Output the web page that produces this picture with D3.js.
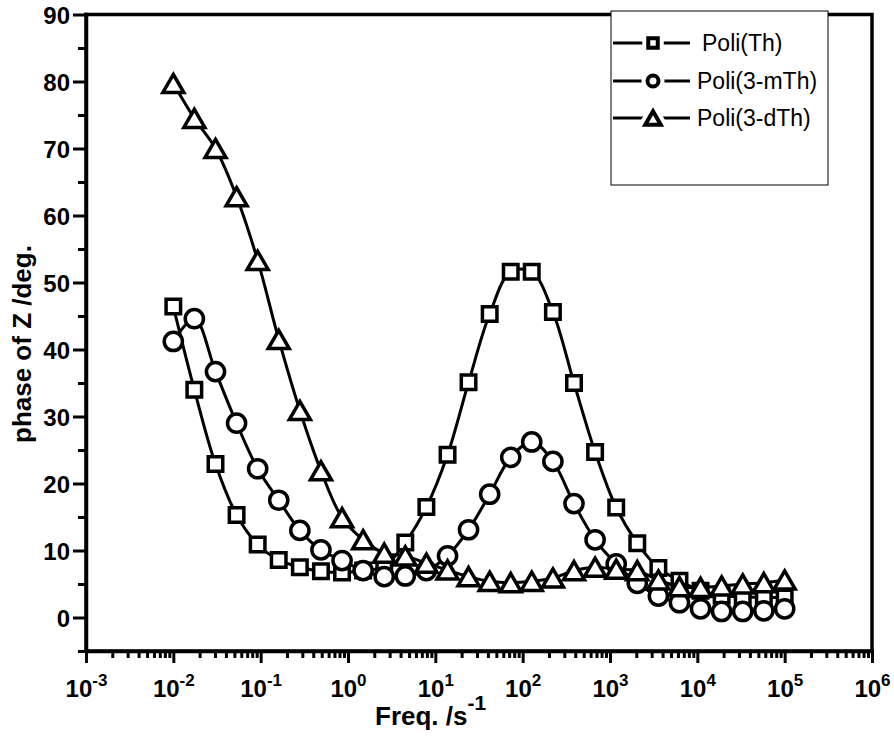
<!DOCTYPE html>
<html>
<head>
<meta charset="utf-8">
<script src="https://cdn.jsdelivr.net/npm/d3@7/dist/d3.min.js"></script>
<style>
  html, body { margin: 0; padding: 0; background: #fff; }
  svg { display: block; }
  text { font-family: "Liberation Sans", Arial, Helvetica, sans-serif; fill: #000; }
</style>
</head>
<body>
<svg id="chart" width="894" height="738"></svg>
<script>
// Frequency sweep (Hz), 30 points log-spaced from 10 mHz to 100 kHz
const freq = [0.01, 0.0174, 0.0304, 0.0530, 0.0924, 0.161, 0.281, 0.490, 0.855, 1.49,
              2.60, 4.53, 7.90, 13.8, 24.0, 41.9, 73.0, 127, 222, 387,
              675, 1178, 2053, 3580, 6243, 10886, 18981, 33098, 57713, 100000];

// Phase angle of Z (degrees) for each film
const phaseTh  = [46.4, 34.0, 22.9, 15.3, 10.9, 8.6, 7.5, 6.9, 6.7, 7.0,
                  7.6, 11.2, 16.5, 24.3, 35.1, 45.3, 51.6, 51.6, 45.6, 35.0,
                  24.7, 16.4, 11.1, 7.4, 5.5, 4.0, 3.3, 3.1, 3.0, 3.0];
const phaseMTh = [41.2, 44.6, 36.7, 29.0, 22.2, 17.5, 13.0, 10.1, 8.5, 7.0,
                  6.1, 6.2, 7.0, 9.2, 13.1, 18.4, 23.9, 26.2, 23.3, 17.0,
                  11.6, 8.0, 5.1, 3.2, 2.2, 1.3, 0.9, 0.9, 1.0, 1.3];
const phaseDTh = [79.7, 74.5, 70.0, 62.8, 53.3, 41.5, 30.9, 21.9, 14.9, 11.6,
                  9.6, 9.2, 8.1, 7.1, 6.1, 5.4, 5.2, 5.4, 5.9, 7.0,
                  7.5, 7.2, 7.0, 5.6, 4.6, 4.5, 4.7, 5.0, 5.2, 5.6];

const seriesNames = ["Poli(Th)", "Poli(3-mTh)", "Poli(3-dTh)"];
const seriesShapes = ["square", "circle", "triangle"];

// Axis ticks
const xMajorExp = [-3, -2, -1, 0, 1, 2, 3, 4, 5, 6];
const yMajor = [0, 10, 20, 30, 40, 50, 60, 70, 80, 90];
const yMinor = [-5, 5, 15, 25, 35, 45, 55, 65, 75, 85];

const svg = d3.select("#chart");
const plotLeft = 86, plotRight = 872, plotTop = 14.5, plotBottom = 651;

const x = d3.scaleLog().domain([1e-3, 1e6]).range([plotLeft, plotRight]);
const y = d3.scaleLinear().domain([-5, 90]).range([plotBottom, plotTop]);

const series = [phaseTh, phaseMTh, phaseDTh].map((vals, i) => ({
  name: seriesNames[i],
  shape: seriesShapes[i],
  points: vals.map((v, k) => ({ f: freq[k], v }))
}));

// Marker path generator, centred on (0,0)
function markerPath(shape, s) {
  if (shape === "square") {
    const h = s / 2;
    return `M${-h},${-h}H${h}V${h}H${-h}Z`;
  }
  if (shape === "circle") {
    const r = s / 2;
    return `M${r},0A${r},${r} 0 1,1 ${-r},0A${r},${r} 0 1,1 ${r},0Z`;
  }
  const side = s * 1.2, hgt = side * Math.sqrt(3) / 2;
  return `M0,${-hgt / 2}L${side / 2},${hgt / 2}L${-side / 2},${hgt / 2}Z`;
}
const markerSize = { square: 14.5, circle: 18.2, triangle: 17.5 };
const legendSize = { square: 9.5, circle: 11, triangle: 13 };

// Top and right frame
svg.append("path")
  .attr("d", `M${plotLeft},${plotTop}H${plotRight}V${plotBottom}`)
  .attr("fill", "none").attr("stroke", "#000").attr("stroke-width", 3.5)
  .attr("stroke-linecap", "square");

// X axis: major + minor ticks
const xMinor = [];
for (let e = -3; e < 6; e++) for (let m = 2; m <= 9; m++) xMinor.push(m * Math.pow(10, e));

const gxMinor = svg.append("g").attr("transform", `translate(0,${plotBottom})`)
  .call(d3.axisBottom(x).tickValues(xMinor).tickSize(7).tickSizeOuter(0).tickFormat(""));
const gx = svg.append("g").attr("transform", `translate(0,${plotBottom})`)
  .call(d3.axisBottom(x).tickValues(xMajorExp.map(e => Math.pow(10, e)))
        .tickSize(12).tickSizeOuter(0).tickFormat(""));

gx.selectAll(".tick text").each(function (d) {
  const t = d3.select(this);
  t.attr("y", 46).attr("dy", null).attr("text-anchor", "middle")
   .style("font-size", "24px").style("font-weight", "bold");
  t.append("tspan").text("10");
  t.append("tspan").attr("dy", -11).style("font-size", "17px")
   .text(String(Math.round(Math.log10(d))));
});

// Y axis: major + minor ticks
const gyMinor = svg.append("g").attr("transform", `translate(${plotLeft},0)`)
  .call(d3.axisLeft(y).tickValues(yMinor).tickSize(8).tickSizeOuter(0).tickFormat(""));
const gy = svg.append("g").attr("transform", `translate(${plotLeft},0)`)
  .call(d3.axisLeft(y).tickValues(yMajor).tickSize(13).tickPadding(3)
        .tickSizeOuter(0).tickFormat(d3.format("d")));
gy.selectAll(".tick text").style("font-size", "24px").style("font-weight", "bold")
  .attr("dy", "0.36em");

[gx, gxMinor, gy, gyMinor].forEach(g => {
  g.select(".domain").attr("stroke", "#000").attr("stroke-width", 3.5);
  g.selectAll(".tick line").attr("stroke", "#000").attr("stroke-width", 3);
});
gx.select(".domain").attr("d", `M${plotLeft - 1.75},0H${plotRight + 1.75}`);
gy.select(".domain").attr("d", `M0,${plotBottom + 1.75}V${plotTop - 1.75}`);

// Axis titles
const xt = svg.append("text").attr("x", 375).attr("y", 725)
  .style("font-size", "26px").style("font-weight", "bold");
xt.append("tspan").text("Freq. /s");
xt.append("tspan").attr("dy", -15).style("font-size", "21px").text("-1");

svg.append("text")
  .attr("transform", "translate(31,443) rotate(-90)")
  .style("font-size", "26px").style("font-weight", "bold")
  .text("phase of Z /deg.");

// Data: spline line then open markers, series by series
const line = d3.line().x(d => x(d.f)).y(d => y(d.v)).curve(d3.curveCatmullRom.alpha(0.5));
const plot = svg.append("g");
series.forEach(s => {
  const g = plot.append("g");
  g.append("path").datum(s.points).attr("d", line)
    .attr("fill", "none").attr("stroke", "#000").attr("stroke-width", 3);
  g.selectAll("path.mk").data(s.points).join("path").attr("class", "mk")
    .attr("transform", d => `translate(${x(d.f)},${y(d.v)})`)
    .attr("d", markerPath(s.shape, markerSize[s.shape]))
    .attr("fill", "#fff").attr("stroke", "#000").attr("stroke-width", 3.5)
    .attr("stroke-linejoin", "miter");
});

// Legend
const lg = svg.append("g");
lg.append("rect").attr("x", 611).attr("y", 11).attr("width", 217).attr("height", 174)
  .attr("fill", "#fff").attr("stroke", "#000").attr("stroke-width", 1);
const rowY = [43, 81, 118];
series.forEach((s, i) => {
  const ry = rowY[i];
  lg.append("line").attr("x1", 613).attr("x2", 690).attr("y1", ry).attr("y2", ry)
    .attr("stroke", "#000").attr("stroke-width", 3.2);
  lg.append("path").attr("transform", `translate(653,${ry})`)
    .attr("d", markerPath(s.shape, legendSize[s.shape]))
    .attr("fill", "#fff").attr("stroke", "#fff").attr("stroke-width", 12);
  lg.append("path").attr("transform", `translate(653,${ry})`)
    .attr("d", markerPath(s.shape, legendSize[s.shape]))
    .attr("fill", "#fff").attr("stroke", "#000").attr("stroke-width", 4);
  lg.append("text").attr("x", i === 0 ? 702 : 697).attr("y", ry + 8)
    .style("font-size", "23px").text(s.name);
});
</script>
</body>
</html>
